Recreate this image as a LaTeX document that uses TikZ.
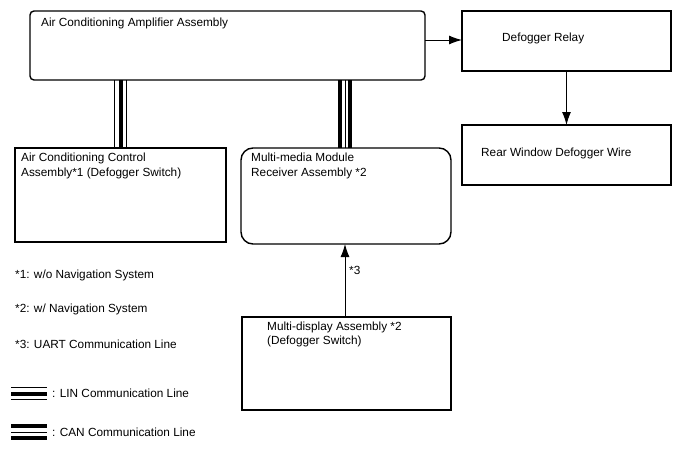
\documentclass[tikz,border=0pt]{standalone}
\usepackage{fontspec}
\setmainfont{Liberation Sans}
\usetikzlibrary{arrows.meta,calc}
\begin{document}
\begin{tikzpicture}[x=1pt,y=-1pt,
  box/.style={draw,line width=1.4pt,inner sep=0pt,outer sep=0pt},
  txt/.style={anchor=base west,inner sep=0pt,font=\fontsize{11.8}{14}\selectfont},
  arr/.style={line width=1pt,-{Latex[length=13pt,width=9pt]}},
  thinl/.style={line width=0.8pt},
  thickl/.style={line width=4pt}]
\useasboundingbox (0,0) rectangle (688,463);
% boxes
\node[box,rounded corners=4pt,minimum width=395pt,minimum height=69pt] (amp) at (227.5,45.5) {};
\node[box,minimum width=209pt,minimum height=60pt] (relay) at (566.5,41) {};
\node[box,minimum width=209pt,minimum height=60pt] (wire) at (566.5,155) {};
\node[box,minimum width=211pt,minimum height=94pt] (acc) at (120.5,195) {};
\node[box,rounded corners=12pt,minimum width=210pt,minimum height=96pt] (mm) at (346,196) {};
\node[box,minimum width=209pt,minimum height=93pt] (md) at (346.5,363.5) {};
% texts
\node[txt] (tamp) at (41,27) {Air Conditioning Amplifier Assembly};
\node[txt] (trelay) at (502,41) {Defogger Relay};
\node[txt] (twire) at (481,156) {Rear Window Defogger Wire};
\node[txt] (tacc1) at (21,161) {Air Conditioning Control};
\node[txt] (tacc2) at (21,176) {Assembly*1 (Defogger Switch)};
\node[txt] (tmm1) at (251,161) {Multi-media Module};
\node[txt] (tmm2) at (251,176) {Receiver Assembly *2};
\node[txt] (tmd1) at (267,330) {Multi-display Assembly *2};
\node[txt] (tmd2) at (267,344) {(Defogger Switch)};
\node[txt] (t3) at (349,274) {*3};
\node[txt] (n1) at (15,278) {*1: w/o Navigation System};
\node[txt] (n2) at (15,312) {*2: w/ Navigation System};
\node[txt] (n3) at (15,348) {*3: UART Communication Line};
\node[txt] (nlin) at (52,397) {: LIN Communication Line};
\node[txt] (ncan) at (52,436) {: CAN Communication Line};
% arrows
\coordinate (ya) at (0,40);
\draw[arr] (amp.east |- ya) -- (relay.west |- ya);
\draw[arr] (relay.south) -- (wire.north);
\coordinate (xa) at (345,0);
\draw[arr] (md.north -| xa) -- (mm.south -| xa);
% LIN connector
\foreach \dx/\st in {-6/thinl,0/thickl,6/thinl}{
  \coordinate (lx) at ({120.5+\dx},0);
  \draw[\st] (amp.south -| lx) -- (acc.north -| lx);
}
% CAN connector
\foreach \dx/\st in {-5/thickl,0/thinl,5/thickl}{
  \coordinate (cx) at ({345+\dx},0);
  \draw[\st] (amp.south -| cx) -- (mm.north -| cx);
}
% legend
\draw[thinl] (11,387.5) -- (47,387.5);
\draw[thickl] (11,393.5) -- (47,393.5);
\draw[thinl] (11,399) -- (47,399);
\draw[thickl] (11,426) -- (47,426);
\draw[thinl] (11,432) -- (47,432);
\draw[thickl] (11,438) -- (47,438);
\end{tikzpicture}
\end{document}
